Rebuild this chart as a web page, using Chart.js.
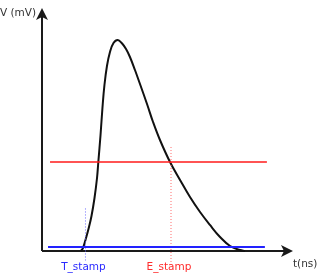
<!DOCTYPE html>
<html>
<head>
<meta charset="utf-8">
<script src="https://cdn.jsdelivr.net/npm/chart.js@4/dist/chart.umd.min.js"></script>
<style>
  html, body { margin: 0; padding: 0; background: #fff; }
  #wrap { width: 318px; height: 273px; }
</style>
</head>
<body>
<div id="wrap"><canvas id="pulso" width="318" height="273"></canvas></div>
<script>
// pulse shape (t in ns, V in mV)
const pulseT = [3.88, 4.08, 4.33, 4.63, 4.93, 5.23, 5.48, 5.61, 5.83, 6.02, 6.22, 6.47, 6.77, 7.12, 7.54, 7.94, 8.37, 8.76, 9.26, 9.76, 10.46, 11.06, 11.75, 12.75, 13.75, 14.74, 15.74, 16.73, 17.73, 18.73, 19.72, 20.22];
const pulseV = [0, 1.23, 4.53, 9.05, 14.4, 21.81, 30.04, 36.63, 47.74, 58.85, 68.31, 76.13, 81.89, 85.6, 86.83, 85.6, 83.13, 79.84, 74.49, 68.72, 60.49, 53.09, 45.68, 36.63, 29.22, 22.22, 16.05, 10.7, 5.76, 2.06, 0.41, 0];

// thresholds
const thresholdT = [0.8, 22.4];
const thresholdV = 36.6;
const baselineT = [0.6, 22.2];
const baselineV = 1.6;

// time stamps
const stampNames = ['T_stamp', 'E_stamp'];
const stampT = [4.33, 12.85];
const stampTop = [17.5, 42.8];
const stampBottom = -4.5;

const tMax = 25;
const vMax = 100;

const pts = (xs, ys) => xs.map((x, i) => ({ x: x, y: ys[i] }));

// ejes con flechas y textos
const ejes = {
  id: 'ejes',
  beforeDatasetsDraw(chart) {
    const ctx = chart.ctx;
    const xs = chart.scales.x, ys = chart.scales.y;
    const x0 = xs.getPixelForValue(0), y0 = ys.getPixelForValue(0);
    const xEnd = xs.getPixelForValue(tMax), yEnd = ys.getPixelForValue(vMax);
    ctx.save();
    ctx.strokeStyle = '#1a1a1a';
    ctx.fillStyle = '#1a1a1a';
    ctx.lineWidth = 2;
    ctx.beginPath();
    ctx.moveTo(x0, y0);
    ctx.lineTo(x0, yEnd + 6);
    ctx.moveTo(x0, y0);
    ctx.lineTo(xEnd - 6, y0);
    ctx.stroke();
    // flecha vertical
    ctx.beginPath();
    ctx.moveTo(x0, yEnd);
    ctx.lineTo(x0 + 6, yEnd + 12);
    ctx.lineTo(x0, yEnd + 9);
    ctx.lineTo(x0 - 6, yEnd + 12);
    ctx.closePath();
    ctx.fill();
    // flecha horizontal
    ctx.beginPath();
    ctx.moveTo(xEnd, y0);
    ctx.lineTo(xEnd - 12, y0 - 6);
    ctx.lineTo(xEnd - 9, y0);
    ctx.lineTo(xEnd - 12, y0 + 6);
    ctx.closePath();
    ctx.fill();
    ctx.restore();
  },
  afterDraw(chart) {
    const ctx = chart.ctx;
    const xs = chart.scales.x, ys = chart.scales.y;
    const x0 = xs.getPixelForValue(0), y0 = ys.getPixelForValue(0);
    const xEnd = xs.getPixelForValue(tMax), yEnd = ys.getPixelForValue(vMax);
    ctx.save();
    ctx.font = '10.5px "DejaVu Sans"';
    ctx.textBaseline = 'middle';
    ctx.fillStyle = '#333';
    ctx.textAlign = 'right';
    ctx.fillText('V (mV)', x0 - 6, yEnd + 5);
    ctx.textAlign = 'left';
    ctx.fillText('t(ns)', xEnd, y0 + 13);
    ctx.textAlign = 'center';
    const cols = ['#2a2aff', '#ff2a2a'];
    stampNames.forEach((n, i) => {
      ctx.fillStyle = cols[i];
      ctx.fillText(n, xs.getPixelForValue(stampT[i]) - 2, y0 + 16);
    });
    ctx.restore();
  }
};

new Chart(document.getElementById('pulso'), {
  type: 'line',
  data: {
    datasets: [
      {
        data: pts(baselineT, [baselineV, baselineV]),
        borderColor: '#2222ff', borderWidth: 2, pointRadius: 0, clip: false
      },
      {
        data: pts(thresholdT, [thresholdV, thresholdV]),
        borderColor: '#ff1a1a', borderWidth: 1.5, pointRadius: 0, clip: false
      },
      {
        data: pts([stampT[0], stampT[0]], [stampTop[0], stampBottom]),
        borderColor: '#6a6aff', borderWidth: 1, borderDash: [1, 2], pointRadius: 0, clip: false
      },
      {
        data: pts([stampT[1], stampT[1]], [stampTop[1], stampBottom]),
        borderColor: '#ff6a6a', borderWidth: 1, borderDash: [1, 2], pointRadius: 0, clip: false
      },
      {
        data: pts(pulseT, pulseV),
        borderColor: '#111', borderWidth: 2, pointRadius: 0,
        tension: 0.4, clip: false
      }
    ]
  },
  options: {
    responsive: false,
    animation: false,
    layout: { padding: { left: 42, right: 25, top: 8, bottom: 22 } },
    plugins: { legend: { display: false }, tooltip: { enabled: false } },
    scales: {
      x: { type: 'linear', min: 0, max: tMax, display: false },
      y: { type: 'linear', min: 0, max: vMax, display: false }
    }
  },
  plugins: [ejes]
});
</script>
</body>
</html>
